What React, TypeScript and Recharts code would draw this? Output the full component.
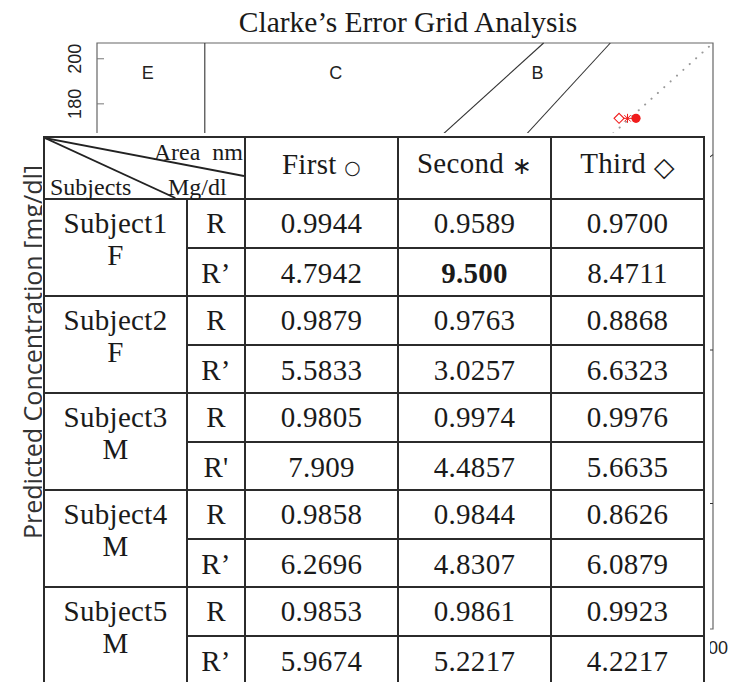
import React from "react";
import {
  ReferenceArea,
  ReferenceDot,
  ReferenceLine,
  Scatter,
  ScatterChart,
  XAxis,
  YAxis,
} from "recharts";

const SERIF = '"Liberation Serif", "Times New Roman", serif';
const SANS = '"Liberation Sans", Arial, sans-serif';
const RED = "#f01c1c";

// chart scales
const xTicks = [0, 100, 200, 300, 400];
const yLabelTicks = [180, 200];

// Clarke zone boundaries (reference / predicted, mg/dl)
const zoneLines = [
  [{ x: 0, y: 70 }, { x: 175 / 3, y: 70 }],
  [{ x: 175 / 3, y: 70 }, { x: 400 / 1.2, y: 400 }],
  [{ x: 70, y: 84 }, { x: 70, y: 400 }],
  [{ x: 0, y: 180 }, { x: 70, y: 180 }],
  [{ x: 70, y: 180 }, { x: 290, y: 400 }],
  [{ x: 70, y: 0 }, { x: 70, y: 56 }],
  [{ x: 70, y: 56 }, { x: 400, y: 320 }],
  [{ x: 180, y: 0 }, { x: 180, y: 70 }],
  [{ x: 180, y: 70 }, { x: 400, y: 70 }],
  [{ x: 240, y: 70 }, { x: 240, y: 180 }],
  [{ x: 240, y: 180 }, { x: 400, y: 180 }],
  [{ x: 130, y: 0 }, { x: 180, y: 70 }],
];
const zoneLabels = [
  { x: 33, y: 379, text: "E" },
  { x: 155, y: 379, text: "C" },
  { x: 286, y: 379, text: "B" },
];

const firstPts = [{ x: 350, y: 346 }];
const secondPts = [{ x: 344.5, y: 346 }];
const thirdPts = [{ x: 339, y: 346 }];

// table
const subjects = ["Subject1", "Subject2", "Subject3", "Subject4", "Subject5"];
const sexes = ["F", "F", "M", "M", "M"];
const rPrimeLabels = ["R’", "R’", "R'", "R’", "R’"];
const firstR = ["0.9944", "0.9879", "0.9805", "0.9858", "0.9853"];
const secondR = ["0.9589", "0.9763", "0.9974", "0.9844", "0.9861"];
const thirdR = ["0.9700", "0.8868", "0.9976", "0.8626", "0.9923"];
const firstRp = ["4.7942", "5.5833", "7.909", "6.2696", "5.9674"];
const secondRp = ["9.500", "3.0257", "4.4857", "4.8307", "5.2217"];
const thirdRp = ["8.4711", "6.6323", "5.6635", "6.0879", "4.2217"];

function CircleMark(p: any) {
  return <circle cx={p.cx} cy={p.cy} r={4.6} fill={RED} />;
}

function StarMark(p: any) {
  const r = 4.5;
  const d = r * 0.72;
  const { cx, cy } = p;
  return (
    <g stroke={RED} strokeWidth={1}>
      <line x1={cx - r} y1={cy} x2={cx + r} y2={cy} />
      <line x1={cx} y1={cy - r} x2={cx} y2={cy + r} />
      <line x1={cx - d} y1={cy - d} x2={cx + d} y2={cy + d} />
      <line x1={cx - d} y1={cy + d} x2={cx + d} y2={cy - d} />
    </g>
  );
}

function DiamondMark(p: any) {
  const { cx, cy } = p;
  const r = 5;
  return (
    <polygon
      points={`${cx},${cy - r} ${cx + r},${cy} ${cx},${cy + r} ${cx - r},${cy}`}
      fill="none"
      stroke={RED}
      strokeWidth={1.1}
    />
  );
}

function RotTick(p: any) {
  const { x, y, payload } = p;
  return (
    <text
      x={x}
      y={y}
      transform={`rotate(-90, ${x}, ${y})`}
      textAnchor="middle"
      dominantBaseline="central"
      fontSize={18}
      fontFamily={SANS}
      fill="#222"
    >
      {payload.value}
    </text>
  );
}

function YTitle(p: any) {
  const vb = p.viewBox || { x: 0, y: 43, width: 97, height: 586 };
  const cx = vb.x + 32;
  const cy = vb.y + vb.height / 2 + 16;
  return (
    <text
      x={cx}
      y={cy}
      transform={`rotate(-90, ${cx}, ${cy})`}
      textAnchor="middle"
      dominantBaseline="central"
      fontSize={25}
      fontFamily='"Open Sans", sans-serif'
      fill="#333"
    >
      Predicted Concentration [mg/dl]
    </text>
  );
}

const cell: React.CSSProperties = {
  border: "2px solid #2b2b2b",
  textAlign: "center",
  padding: 0,
  verticalAlign: "middle",
};

function SymbolText({ ch, size }: { ch: string; size: number }) {
  return (
    <span style={{ fontFamily: '"DejaVu Sans", sans-serif', fontSize: size, verticalAlign: "middle" }}>
      {ch}
    </span>
  );
}

function ResultTable() {
  return (
    <table
      style={{
        borderCollapse: "collapse",
        tableLayout: "fixed",
        width: 660,
        fontFamily: SERIF,
        fontSize: 29,
        letterSpacing: 0.3,
        color: "#1a1a1a",
      }}
    >
      <colgroup>
        <col style={{ width: 143 }} />
        <col style={{ width: 58 }} />
        <col style={{ width: 153 }} />
        <col style={{ width: 153 }} />
        <col style={{ width: 153 }} />
      </colgroup>
      <tbody>
        <tr style={{ height: 62 }}>
          <td colSpan={2} style={{ ...cell, position: "relative", letterSpacing: 0 }}>
            <svg
              viewBox="0 0 200 60"
              preserveAspectRatio="none"
              style={{ position: "absolute", left: 0, top: 0, width: "100%", height: "100%" }}
            >
              <line x1={0} y1={0} x2={200} y2={38} stroke="#222" strokeWidth={1.8} />
              <line x1={0} y1={0} x2={131} y2={60} stroke="#222" strokeWidth={1.8} />
            </svg>
            <span style={{ position: "absolute", right: 1, top: 1, fontSize: 24, lineHeight: "26px" }}>
              Area&nbsp; nm
            </span>
            <span style={{ position: "absolute", left: 5, top: 36, fontSize: 24, lineHeight: "26px" }}>
              Subjects
            </span>
            <span style={{ position: "absolute", left: 123, top: 36, fontSize: 24, lineHeight: "26px" }}>
              Mg/dl
            </span>
          </td>
          <td style={{ ...cell, paddingBottom: 8 }}>
            First <SymbolText ch="○" size={19} />
          </td>
          <td style={{ ...cell, paddingBottom: 8 }}>
            Second <SymbolText ch="∗" size={24} />
          </td>
          <td style={{ ...cell, paddingBottom: 8 }}>
            Third <SymbolText ch="◇" size={27} />
          </td>
        </tr>
        {subjects.map((s, i) => (
          <React.Fragment key={s}>
            <tr style={{ height: 48.5 }}>
              <td
                rowSpan={2}
                style={{ ...cell, verticalAlign: "top", paddingTop: 7, lineHeight: "32px" }}
              >
                {s}
                <br />
                {sexes[i]}
              </td>
              <td style={cell}>R</td>
              <td style={cell}>{firstR[i]}</td>
              <td style={cell}>{secondR[i]}</td>
              <td style={cell}>{thirdR[i]}</td>
            </tr>
            <tr style={{ height: 48.5 }}>
              <td style={{ ...cell, paddingTop: 4 }}>{rPrimeLabels[i]}</td>
              <td style={{ ...cell, paddingTop: 4 }}>{firstRp[i]}</td>
              <td style={{ ...cell, paddingTop: 4, fontWeight: i === 0 ? "bold" : "normal" }}>
                {secondRp[i]}
              </td>
              <td style={{ ...cell, paddingTop: 4 }}>{thirdRp[i]}</td>
            </tr>
          </React.Fragment>
        ))}
      </tbody>
    </table>
  );
}

export default function App() {
  return (
    <div
      style={{
        position: "absolute",
        left: 0,
        top: 0,
        width: 740,
        height: 682,
        overflow: "hidden",
        background: "#fff",
      }}
    >
      <ScatterChart width={740} height={682} margin={{ top: 43, right: 27, bottom: 23, left: 0 }}>
        <XAxis
          type="number"
          dataKey="x"
          domain={[0, 400]}
          ticks={xTicks}
          allowDataOverflow
          height={30}
          axisLine={false}
          tickSize={0}
          tickMargin={12}
          tick={{ fontSize: 18, fill: "#222", fontFamily: SANS }}
        />
        <YAxis yAxisId="main" type="number" dataKey="y" domain={[-20, 400]} allowDataOverflow hide />
        <YAxis
          yAxisId="lbl"
          type="number"
          domain={[-53, 207]}
          ticks={yLabelTicks}
          allowDataOverflow
          width={97}
          axisLine={false}
          tickSize={-7}
          tickMargin={29}
          tickLine={{ stroke: "#777" }}
          tick={<RotTick />}
          label={<YTitle />}
        />
        <ReferenceArea
          yAxisId="main"
          x1={0}
          x2={400}
          y1={-20}
          y2={400}
          fill="none"
          stroke="#666"
          strokeWidth={1.2}
          ifOverflow="visible"
        />
        <ReferenceLine
          yAxisId="main"
          segment={[{ x: 0, y: 0 }, { x: 400, y: 400 }]}
          stroke="#999"
          strokeWidth={2}
          strokeDasharray="0.1 8.5"
          strokeLinecap="round"
          ifOverflow="visible"
        />
        {zoneLines.map((seg, i) => (
          <ReferenceLine
            key={i}
            yAxisId="main"
            segment={seg}
            stroke="#333"
            strokeWidth={1.1}
            ifOverflow="visible"
          />
        ))}
        {zoneLabels.map((z) => (
          <ReferenceDot
            key={z.text}
            yAxisId="main"
            x={z.x}
            y={z.y}
            r={0}
            fill="none"
            stroke="none"
            label={{ value: z.text, position: "center", fontSize: 18, fill: "#222", fontFamily: SANS }}
          />
        ))}
        <Scatter yAxisId="main" data={thirdPts} shape={<DiamondMark />} isAnimationActive={false} />
        <Scatter yAxisId="main" data={secondPts} shape={<StarMark />} isAnimationActive={false} />
        <Scatter yAxisId="main" data={firstPts} shape={<CircleMark />} isAnimationActive={false} />
      </ScatterChart>
      <div
        style={{
          position: "absolute",
          left: 0,
          top: 5,
          width: 816,
          textAlign: "center",
          fontFamily: SERIF,
          fontSize: 29.5,
          lineHeight: "34px",
          color: "#1a1a1a",
        }}
      >
        Clarke’s Error Grid Analysis
      </div>
      <div
        style={{
          position: "absolute",
          left: 42,
          top: 133,
          width: 668,
          height: 549,
          background: "#fff",
        }}
      >
        <div style={{ position: "absolute", left: 1, top: 3 }}>
          <ResultTable />
        </div>
      </div>
    </div>
  );
}
